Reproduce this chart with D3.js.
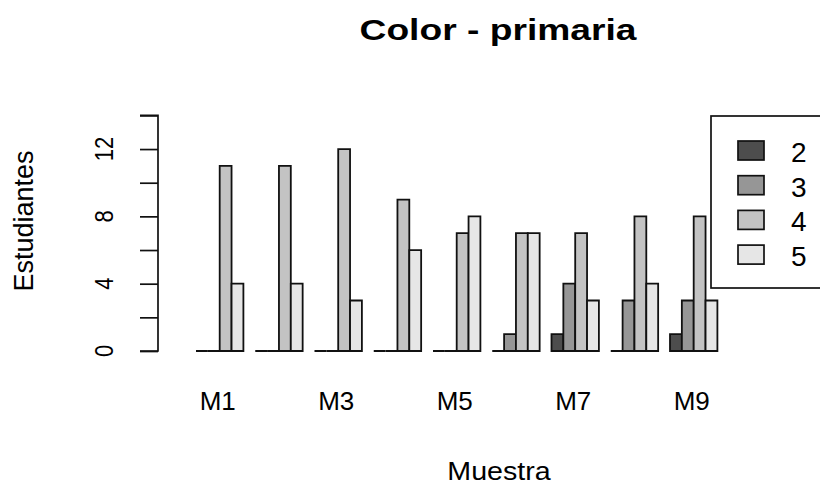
<!DOCTYPE html>
<html lang="es">
<head>
<meta charset="UTF-8">
<title>Color - primaria</title>
<script src="https://d3js.org/d3.v7.min.js"></script>
<style>
    body { margin: 0; background: #fff; }
    svg text { font-family: "Liberation Sans", Arial, sans-serif; fill: #000; }
    .bar { stroke: #111; stroke-width: 1.8px; }
</style>
</head>
<body>
<div id="chart"></div>
<script>
    // data
    var muestras = ["M1", "M2", "M3", "M4", "M5", "M6", "M7", "M8", "M9"];
    var niveles = ["2", "3", "4", "5"];
    var nivel2 = [0, 0, 0, 0, 0, 0, 1, 0, 1];
    var nivel3 = [0, 0, 0, 0, 0, 1, 4, 3, 3];
    var nivel4 = [11, 11, 12, 9, 7, 7, 7, 8, 8];
    var nivel5 = [4, 4, 3, 6, 8, 7, 3, 4, 3];
    var yTicks = [0, 2, 4, 6, 8, 10, 12, 14];
    var yLabels = [0, 4, 8, 12];
    var xLabels = ["M1", "M3", "M5", "M7", "M9"];
    var colores = ["#4D4D4D", "#969696", "#C3C3C3", "#E6E6E6"];

    var series = [nivel2, nivel3, nivel4, nivel5];

    var W = 820, H = 485;
    var svg = d3.select("#chart").append("svg")
        .attr("width", W)
        .attr("height", H);

    // scales
    var x = d3.scaleBand()
        .domain(muestras)
        .range([196, 717.4])
        .paddingInner(0.2)
        .paddingOuter(0);

    var xSub = d3.scaleBand()
        .domain(niveles)
        .range([0, x.bandwidth()])
        .padding(0);

    var y = d3.scaleLinear()
        .domain([0, 14])
        .range([351, 115.4]);

    var color = d3.scaleOrdinal()
        .domain(niveles)
        .range(colores);

    // bars (paths so that zero-height bars still show as a line)
    var grupos = svg.append("g")
        .selectAll("g")
        .data(muestras)
        .enter()
        .append("g")
        .attr("transform", d => `translate(${x(d)},0)`);

    grupos.selectAll("path")
        .data((m, gi) => niveles.map((n, si) => ({ key: n, value: series[si][gi] })))
        .enter()
        .append("path")
        .attr("class", "bar")
        .attr("fill", d => color(d.key))
        .attr("d", d => {
            var x0 = xSub(d.key), x1 = x0 + xSub.bandwidth();
            return `M${x0},${y(0)}H${x1}V${y(d.value)}H${x0}Z`;
        });

    // y axis
    var yAxis = svg.append("g")
        .attr("transform", "translate(158,0)")
        .call(d3.axisLeft(y).tickValues(yTicks).tickSize(18).tickFormat(""));
    yAxis.select(".domain").attr("stroke", "#111").attr("stroke-width", 1.7)
        .attr("d", `M-18,${y(0)}H0V${y(14)}H-18`);
    yAxis.selectAll(".tick line").attr("stroke", "#111").attr("stroke-width", 1.7);

    svg.append("g")
        .selectAll("text")
        .data(yLabels)
        .enter()
        .append("text")
        .attr("transform", d => `translate(113,${y(d)}) scale(1.15,1) rotate(-90)`)
        .attr("text-anchor", "middle")
        .style("font-size", "22px")
        .text(d => d);

    // x labels (only every other one fits)
    svg.append("g")
        .selectAll("text")
        .data(xLabels)
        .enter()
        .append("text")
        .attr("x", d => x(d) + x.bandwidth() / 2 - 2)
        .attr("y", 410)
        .attr("text-anchor", "middle")
        .style("font-size", "26px")
        .text(d => d);

    // axis titles
    svg.append("text")
        .attr("transform", "translate(499,480) scale(1.1,1)")
        .attr("text-anchor", "middle")
        .style("font-size", "26px")
        .text("Muestra");

    svg.append("text")
        .attr("transform", "translate(33,221) rotate(-90)")
        .attr("text-anchor", "middle")
        .style("font-size", "27px")
        .text("Estudiantes");

    // title
    svg.append("text")
        .attr("transform", "translate(498,40) scale(1.24,1)")
        .attr("text-anchor", "middle")
        .style("font-size", "30px")
        .style("font-weight", "bold")
        .text("Color - primaria");

    // legend
    svg.append("rect")
        .attr("x", 711)
        .attr("y", 116)
        .attr("width", 140)
        .attr("height", 172)
        .attr("fill", "#fff")
        .attr("stroke", "#111")
        .attr("stroke-width", 1.7);

    var legend = svg.selectAll(".legend")
        .data(niveles)
        .enter()
        .append("g")
        .attr("class", "legend")
        .attr("transform", (d, i) => `translate(738,${141 + i * 34.7})`);

    legend.append("rect")
        .attr("width", 26)
        .attr("height", 19)
        .attr("fill", d => color(d))
        .attr("stroke", "#111")
        .attr("stroke-width", 1.7);

    legend.append("text")
        .attr("x", 53)
        .attr("y", 21)
        .style("font-size", "28px")
        .text(d => d);
</script>
</body>
</html>
